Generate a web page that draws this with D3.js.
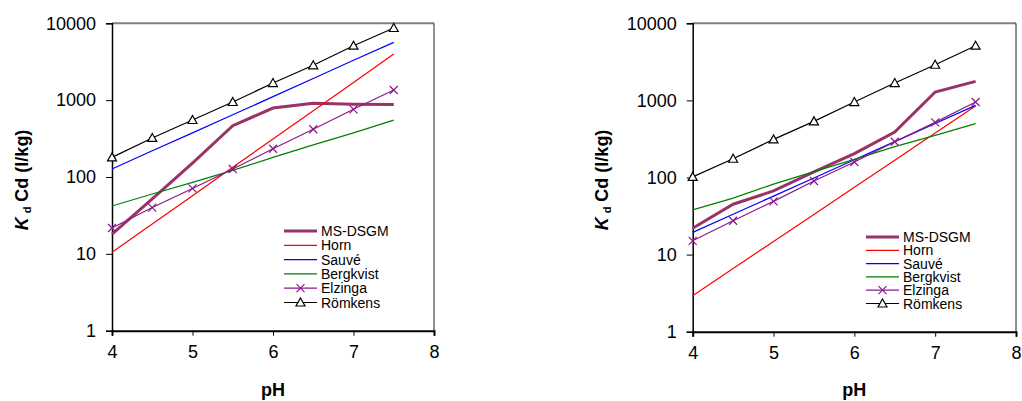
<!DOCTYPE html>
<html>
<head>
<meta charset="utf-8">
<script src="https://cdn.jsdelivr.net/npm/d3@7"></script>
<style>
  body { margin: 0; background: #fff; }
  text { font-family: Arial, "Liberation Sans", sans-serif; }
</style>
</head>
<body>
<script>
// pH values shared by both panels
var phValues = [4, 4.5, 5, 5.5, 6, 6.5, 7, 7.5];
var xTicks = [4, 5, 6, 7, 8];
var yTicks = [1, 10, 100, 1000, 10000];
var seriesNames = ['MS-DSGM', 'Horn', 'Sauvé', 'Bergkvist', 'Elzinga', 'Römkens'];

// left panel
var leftMsDsgm   = [18, 52, 152, 465, 790, 910, 885, 875];
var leftHorn     = [10.5, 24.5, 57, 134, 312, 730, 1700, 3980];
var leftSauve    = [127, 220, 375, 645, 1110, 1910, 3300, 5650];
var leftBergkvist = [42, 60, 85, 122, 180, 262, 375, 550];
var leftElzinga  = [21.7, 40, 71, 127, 233, 418, 760, 1355];
var leftRomkens  = [180, 322, 552, 946, 1670, 2840, 5110, 8690];

// right panel
var rightMsDsgm   = [22, 45, 67, 118, 204, 389, 1284, 1765];
var rightHorn     = [2.93, 6.6, 14.8, 33, 75, 168, 377, 845];
var rightSauve    = [19.4, 33.4, 57.4, 98.6, 170, 292, 502, 863];
var rightBergkvist = [38, 54, 82, 119, 172, 251, 352, 499];
var rightElzinga  = [15.1, 27.5, 49, 90, 159, 291, 519, 952];
var rightRomkens  = [102, 175, 312, 535, 952, 1680, 2900, 5120];

var colors = ['#993366', '#ff0000', '#0000ff', '#008000', '#8a1a8a', '#000000'];
var widths = [3, 1.2, 1.2, 1.2, 1.2, 1.2];
var markers = [null, null, null, null, 'x', 'tri'];

var svg = d3.select('body').append('svg')
    .attr('width', 1022)
    .attr('height', 401);

function drawMarker(g, type, x, y, color) {
    if (type == 'x') {
        g.append('path')
            .attr('d', 'M' + (x - 4) + ',' + (y - 4) + 'L' + (x + 4) + ',' + (y + 4) +
                       'M' + (x - 4) + ',' + (y + 4) + 'L' + (x + 4) + ',' + (y - 4))
            .attr('stroke', color)
            .attr('stroke-width', 1.2);
    } else if (type == 'tri') {
        g.append('path')
            .attr('d', 'M' + x + ',' + (y - 4.5) + 'L' + (x + 4.5) + ',' + (y + 3.5) +
                       'L' + (x - 4.5) + ',' + (y + 3.5) + 'Z')
            .attr('fill', '#fff')
            .attr('stroke', color)
            .attr('stroke-width', 1.2);
    }
}

function drawChart(opt) {
    var x = d3.scaleLinear().domain([4, 8]).range([opt.left, opt.right]);
    var y = d3.scaleLog().domain([1, 10000]).range([opt.bottom, opt.top]);
    var g = svg.append('g');

    // frame: top grey, right dark
    g.append('line')
        .attr('x1', opt.left).attr('x2', opt.right)
        .attr('y1', opt.top).attr('y2', opt.top)
        .attr('stroke', '#808080').attr('stroke-width', 2);
    g.append('line')
        .attr('x1', opt.right).attr('x2', opt.right)
        .attr('y1', opt.top).attr('y2', opt.bottom)
        .attr('stroke', '#222').attr('stroke-width', 1);

    var yAxis = g.append('g')
        .attr('transform', 'translate(' + opt.left + ',0)')
        .call(d3.axisLeft(y).tickValues(yTicks).tickFormat(d3.format('d')).tickSizeOuter(0).tickSize(6).tickPadding(10));
    yAxis.select('.domain').attr('stroke-width', 1.5);
    yAxis.selectAll('text').attr('font-size', 18).attr('fill', '#000')
        .style('font-family', 'Arial, "Liberation Sans", sans-serif');

    var xAxis = g.append('g')
        .attr('transform', 'translate(0,' + opt.bottom + ')')
        .call(d3.axisBottom(x).tickValues(xTicks).tickFormat(d3.format('d')).tickSizeOuter(0).tickSize(5).tickPadding(10));
    xAxis.select('.domain').attr('stroke-width', 2);
    xAxis.selectAll('text').attr('font-size', 18).attr('fill', '#000')
        .style('font-family', 'Arial, "Liberation Sans", sans-serif');

    // axis titles
    g.append('text')
        .attr('x', (opt.left + opt.right) / 2)
        .attr('y', 396)
        .attr('text-anchor', 'middle')
        .attr('font-size', 18)
        .attr('font-weight', 'bold')
        .text('pH');

    var yt = g.append('text')
        .attr('transform', 'translate(' + opt.titleX + ',180) rotate(-90)')
        .attr('text-anchor', 'middle')
        .attr('font-size', 18)
        .attr('font-weight', 'bold');
    yt.append('tspan').attr('font-style', 'italic').text('K');
    yt.append('tspan').attr('font-size', 11).attr('dx', 4).attr('dy', 3).text('d');
    yt.append('tspan').attr('dx', 5).attr('dy', -3).text('Cd (l/kg)');

    var line = d3.line()
        .x(function (d, i) { return x(phValues[i]); })
        .y(function (d) { return y(d); });

    opt.series.forEach(function (vals, k) {
        g.append('path')
            .attr('d', line(vals))
            .attr('fill', 'none')
            .attr('stroke', colors[k])
            .attr('stroke-width', widths[k]);
    });
    opt.series.forEach(function (vals, k) {
        if (!markers[k]) return;
        vals.forEach(function (v, i) {
            drawMarker(g, markers[k], x(phValues[i]), y(v), colors[k]);
        });
    });

    // legend
    seriesNames.forEach(function (name, k) {
        var ly = opt.legY + k * opt.legStep;
        g.append('line')
            .attr('x1', opt.legX).attr('x2', opt.legX + 33)
            .attr('y1', ly).attr('y2', ly)
            .attr('stroke', colors[k])
            .attr('stroke-width', widths[k]);
        if (markers[k]) drawMarker(g, markers[k], opt.legX + 16.5, ly, colors[k]);
        g.append('text')
            .attr('x', opt.legX + 37)
            .attr('y', ly + 5)
            .attr('font-size', opt.legFont)
            .text(name);
    });
}

drawChart({
    left: 112, right: 434, top: 23.3, bottom: 330.7, titleX: 28,
    legX: 284, legY: 231, legStep: 14.3, legFont: 14,
    series: [leftMsDsgm, leftHorn, leftSauve, leftBergkvist, leftElzinga, leftRomkens]
});

drawChart({
    left: 692.7, right: 1016, top: 23.3, bottom: 331.7, titleX: 608,
    legX: 866, legY: 237, legStep: 13.3, legFont: 14,
    series: [rightMsDsgm, rightHorn, rightSauve, rightBergkvist, rightElzinga, rightRomkens]
});
</script>
</body>
</html>
